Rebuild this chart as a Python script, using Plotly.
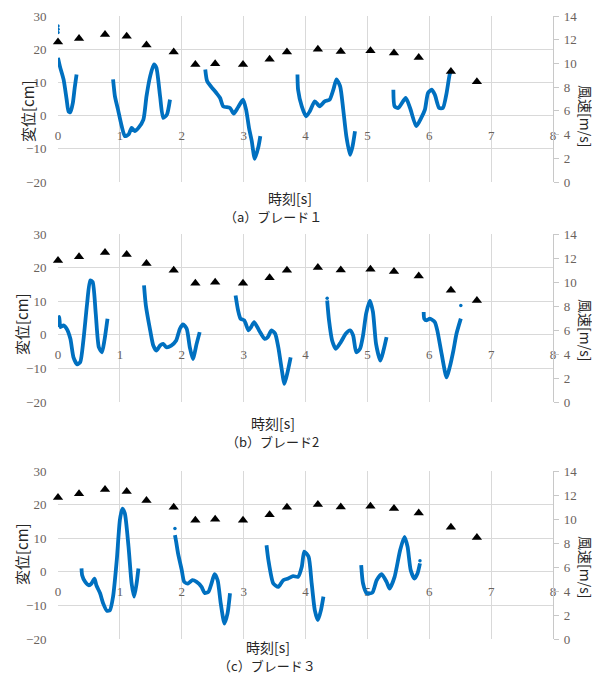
import plotly.graph_objects as go

# ---------------- data ----------------
x_ticks = [0, 1, 2, 3, 4, 5, 6, 7, 8]
disp_ticks = [-20, -10, 0, 10, 20, 30]
wind_ticks = [0, 2, 4, 6, 8, 10, 12, 14]

# wind speed (same in all three panels)
wind_t = [0.0, 0.34, 0.76, 1.11, 1.43, 1.87, 2.22, 2.54, 2.99, 3.42, 3.70, 4.20, 4.57, 5.05, 5.43, 5.83, 6.35, 6.77]
wind_v = [11.8, 12.1, 12.45, 12.3, 11.55, 10.97, 9.9, 9.97, 9.9, 10.35, 10.97, 11.2, 11.0, 11.07, 10.88, 10.5, 9.32, 8.45]

# blade 1 displacement (segments separated by None)
b1_t = [0.0, 0.03, 0.09, 0.14, 0.17, 0.20, 0.24, 0.27, 0.30, None,
        0.89, 0.92, 0.97, 1.03, 1.08, 1.14, 1.19, 1.24, 1.30, 1.38, 1.43, 1.49, 1.55, 1.59, 1.65, 1.70, 1.76, 1.81, None,
        2.38, 2.41, 2.48, 2.56, 2.62, 2.67, 2.78, 2.84, 2.91, 2.99, 3.04, 3.09, 3.13, 3.18, 3.24, 3.27, None,
        3.87, 3.88, 3.94, 4.01, 4.07, 4.15, 4.23, 4.31, 4.39, 4.45, 4.50, 4.56, 4.61, 4.66, 4.72, 4.76, 4.80, None,
        5.42, 5.44, 5.50, 5.62, 5.69, 5.79, 5.87, 5.93, 5.98, 6.04, 6.09, 6.16, 6.22, 6.28, 6.33, 6.36]
b1_d = [17.4, 14.9, 10.9, 4.8, 1.3, 1.0, 3.8, 8.4, 12.4, None,
        10.9, 5.8, 1.8, -3.2, -6.2, -5.7, -3.7, -4.7, -3.7, -1.2, 5.8, 11.9, 15.4, 14.4, 5.8, -0.7, 0.3, 4.8, None,
        13.9, 10.4, 8.6, 6.8, 5.3, 2.8, 2.3, 0.6, 2.5, 4.8, 1.8, -4.0, -7.5, -13.0, -9.3, -6.2, None,
        12.4, 7.8, 2.8, -0.2, 1.3, 4.3, 2.8, 4.3, 4.8, 7.8, 10.9, 8.8, 1.8, -6.2, -11.8, -9.3, -4.7, None,
        7.8, 2.8, 2.3, 5.3, 2.3, -3.2, -0.7, 1.8, 6.8, 7.8, 6.3, 2.3, 2.3, 6.8, 12.4, 13.9]
b1_stray_t = [0.0, 0.0, 0.0]
b1_stray_d = [25.0, 26.0, 27.0]
b1_red_t = [1.70, 3.20, 4.73]

# blade 2
b2_t = [0.0, 0.02, 0.04, 0.09, 0.14, 0.20, 0.25, 0.31, 0.36, 0.41, 0.47, 0.52, 0.56, 0.61, 0.66, 0.71, 0.75, 0.80, None,
        1.39, 1.42, 1.49, 1.54, 1.59, 1.65, 1.70, 1.75, 1.83, 1.91, 1.97, 2.02, 2.08, 2.13, 2.18, 2.24, 2.29, None,
        2.87, 2.91, 2.95, 3.01, 3.08, 3.12, 3.17, 3.25, 3.34, 3.39, 3.45, 3.51, 3.56, 3.61, 3.66, 3.71, 3.76, None,
        4.35, 4.38, 4.43, 4.49, 4.57, 4.65, 4.72, 4.77, 4.82, 4.88, 4.93, 4.98, 5.04, 5.09, 5.14, 5.21, 5.26, 5.31, None,
        5.91, 5.92, 5.96, 6.01, 6.09, 6.13, 6.20, 6.28, 6.33, 6.39, 6.44, 6.51]
b2_d = [2.3, 5.3, 2.3, 2.8, 1.8, -1.2, -6.7, -8.8, -8.1, -1.7, 9.2, 16.2, 15.7, 6.3, -3.7, -5.2, -1.7, 4.8, None,
        14.7, 8.7, 1.3, -3.2, -4.7, -3.2, -2.7, -3.7, -3.2, -1.7, 1.8, 3.1, 1.8, -3.7, -7.2, -2.7, 0.8, None,
        11.7, 7.3, 4.8, 4.3, 1.3, 2.3, 3.8, 1.3, -1.2, -0.7, 1.3, 0.3, -3.7, -9.6, -14.6, -11.1, -6.7, None,
        10.2, 4.3, -1.7, -4.2, -2.2, 0.3, 1.3, -0.2, -5.2, -4.2, -0.2, 6.3, 10.2, 6.8, -2.7, -7.7, -4.7, -0.7, None,
        6.8, 4.8, 4.3, 4.8, 3.8, 1.3, -5.7, -12.7, -9.7, -4.7, 0.3, 4.8]
b2_stray_t = [4.35, 6.51]
b2_stray_d = [10.9, 8.7]
b2_red_t = [0.73, 2.19, 3.67, 5.26]

# blade 3
b3_t = [0.38, 0.39, 0.44, 0.50, 0.54, 0.59, 0.62, 0.68, 0.73, 0.79, 0.84, 0.89, 0.95, 1.00, 1.04, 1.08, 1.14, 1.19, 1.23, 1.27, 1.30, None,
        1.89, 1.91, 1.94, 2.00, 2.04, 2.10, 2.17, 2.24, 2.32, 2.37, 2.43, 2.48, 2.53, 2.58, 2.63, 2.69, 2.74, 2.78, None,
        3.37, 3.40, 3.48, 3.56, 3.64, 3.72, 3.80, 3.88, 3.94, 3.98, 4.05, 4.10, 4.15, 4.20, 4.25, 4.29, None,
        4.90, 4.93, 4.99, 5.08, 5.15, 5.23, 5.31, 5.36, 5.44, 5.53, 5.60, 5.65, 5.70, 5.76, 5.81, 5.85]
b3_d = [1.0, -1.0, -3.0, -4.0, -3.5, -2.0, -4.0, -6.4, -9.4, -11.6, -11.4, -7.4, 3.5, 15.4, 18.8, 17.4, 7.4, -3.5, -7.4, -3.5, 1.0, None,
        10.9, 8.9, 5.5, 0.5, -3.0, -3.5, -2.5, -3.0, -4.5, -6.3, -6.0, -3.5, -0.7, -2.5, -9.4, -15.4, -12.4, -6.4, None,
        7.9, 3.5, -3.5, -4.5, -2.5, -2.0, -1.3, -1.5, 1.5, 6.0, 4.5, -3.5, -11.4, -14.4, -11.4, -7.4, None,
        2.0, -3.5, -6.4, -6.2, -2.5, -0.7, -3.0, -5.0, -1.5, 6.5, 10.4, 7.4, 0.5, -2.0, -0.5, 2.5]
b3_stray_t = [1.89, 5.85]
b3_stray_d = [12.9, 3.3]
b3_red_t = [1.22, 2.69, 4.20, 5.77]

red_level = [-22.2, -21.2, -21.6]
captions = ["（a）ブレード１", "（b）ブレード2", "（c）ブレード３"]

panels = [
    (b1_t, b1_d, b1_stray_t, b1_stray_d, b1_red_t),
    (b2_t, b2_d, b2_stray_t, b2_stray_d, b2_red_t),
    (b3_t, b3_d, b3_stray_t, b3_stray_d, b3_red_t),
]

# ---------------- layout geometry ----------------
# the page body has an 8px margin, so the figure is shrunk by that amount
PAGE = 8
VW, VH = 600, 675
W, H = VW - PAGE, VH - PAGE
PLOT_L, PLOT_R, PLOT_T, PLOT_B = 58, 553, 16, 639   # in viewport pixels
ml, mt = PLOT_L - PAGE, PLOT_T - PAGE
mr, mb = VW - PLOT_R, VH - PLOT_B
pw, ph = PLOT_R - PLOT_L, PLOT_B - PLOT_T

def py2paper(py):
    return 1 - (py - PLOT_T) / ph

def px2paper(px):
    return (px - PLOT_L) / pw

panel_px = [(16, 182), (234, 402), (471, 639)]
domains = [[py2paper(b), py2paper(t)] for t, b in panel_px]

BLUE = "#0070C0"
GRID = "#d9d9d9"
TICKC = "#6a625c"
SERIF = "Liberation Serif, Times New Roman, serif"
JP = "Noto Sans CJK JP, sans-serif"

fig = go.Figure()
layout = dict(width=W, height=H, margin=dict(l=ml, r=mr, t=mt, b=mb, autoexpand=False),
              paper_bgcolor="white", plot_bgcolor="white", showlegend=False)
annotations = []

for i, (t, d, st, sd, rt) in enumerate(panels):
    n = i + 1
    xname = "x" if n == 1 else f"x{n}"
    yl = "y" if n == 1 else f"y{2 * n - 1}"
    yr = f"y{2 * n}"
    xkey = "xaxis" if n == 1 else f"xaxis{n}"
    ylkey = "yaxis" if n == 1 else f"yaxis{2 * n - 1}"
    yrkey = f"yaxis{2 * n}"
    dom = domains[i]

    fig.add_trace(go.Scatter(x=t, y=d, xaxis=xname, yaxis=yl, mode="lines",
                             line=dict(color=BLUE, width=3.8, shape="spline", smoothing=0.6),
                             connectgaps=False, hoverinfo="skip"))
    fig.add_trace(go.Scatter(x=st, y=sd, xaxis=xname, yaxis=yl, mode="markers",
                             marker=dict(color=BLUE, size=3.5), hoverinfo="skip"))
    fig.add_trace(go.Scatter(x=rt, y=[red_level[i]] * len(rt), xaxis=xname, yaxis=yl, mode="markers",
                             marker=dict(color="#ff0000", size=9, line=dict(color="#a00000", width=1)),
                             cliponaxis=False, hoverinfo="skip"))
    fig.add_trace(go.Scatter(x=wind_t, y=wind_v, xaxis=xname, yaxis=yr, mode="markers",
                             marker=dict(color="black", symbol="triangle-up", size=9),
                             cliponaxis=False, hoverinfo="skip"))

    layout[xkey] = dict(domain=[0, 1], range=[0, 8], tickvals=x_ticks, anchor="free",
                        position=dom[0] + 0.4 * (dom[1] - dom[0]), automargin=False,
                        showgrid=True, gridcolor=GRID, gridwidth=1.3, zeroline=False, showline=False,
                        ticks="outside", ticklen=8, tickcolor="rgba(0,0,0,0)",
                        tickfont=dict(family=SERIF, size=13, color=TICKC), layer="below traces")
    layout[ylkey] = dict(domain=dom, range=[-20, 30], tickvals=disp_ticks, anchor=xname, automargin=False,
                         showgrid=True, gridcolor=GRID, gridwidth=1.3, zeroline=False, showline=False,
                         ticks="outside", ticklen=8, tickcolor="rgba(0,0,0,0)",
                         tickfont=dict(family=SERIF, size=13, color=TICKC))
    layout[yrkey] = dict(domain=dom, range=[0, 14], tickvals=wind_ticks, anchor=xname, automargin=False,
                         overlaying=yl, side="right", showgrid=False, zeroline=False,
                         showline=True, linecolor="#c8c8c8", linewidth=1.2,
                         ticks="outside", ticklen=5, tickcolor="#c8c8c8", ticklabelstandoff=2,
                         tickfont=dict(family=SERIF, size=13, color=TICKC))

# axis titles and captions (viewport pixel positions from the reference)
left_title_pos = [(28, 111), (21, 324), (21, 554)]
right_title_pos = [(586, 116), (586, 330), (586, 567)]
xtitle_pos = [(290, 198), (273, 423), (268, 647)]
caption_pos = [(273, 217), (272, 441), (267, 665)]

for i in range(3):
    x, y = left_title_pos[i]
    annotations.append(dict(text="変位[cm]", x=px2paper(x), y=py2paper(y), xref="paper", yref="paper",
                            showarrow=False, textangle=-90, xanchor="center", yanchor="middle",
                            font=dict(family=JP, size=15, color="#262626")))
    x, y = right_title_pos[i]
    annotations.append(dict(text="風速[m/s]", x=px2paper(x), y=py2paper(y), xref="paper", yref="paper",
                            showarrow=False, textangle=90, xanchor="center", yanchor="middle",
                            font=dict(family=JP, size=14, color="#262626")))
    x, y = xtitle_pos[i]
    annotations.append(dict(text="時刻[s]", x=px2paper(x), y=py2paper(y), xref="paper", yref="paper",
                            showarrow=False, xanchor="center", yanchor="middle",
                            font=dict(family=JP, size=14, color="#262626")))
    x, y = caption_pos[i]
    annotations.append(dict(text=captions[i], x=px2paper(x), y=py2paper(y), xref="paper", yref="paper",
                            showarrow=False, xanchor="center", yanchor="middle",
                            font=dict(family=JP, size=13, color="#262626")))

layout["annotations"] = annotations
fig.update_layout(**layout)
fig.write_html("out.html")
